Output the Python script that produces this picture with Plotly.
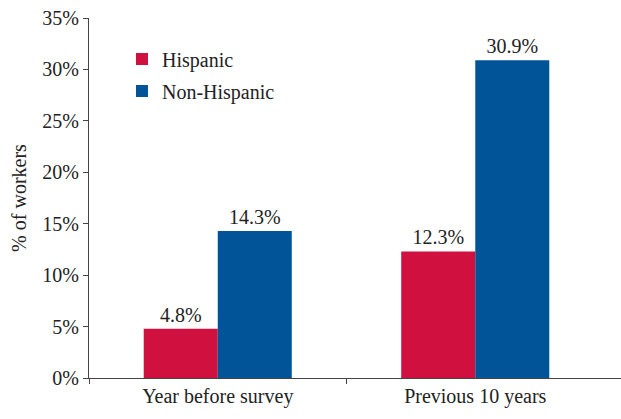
import plotly.graph_objects as go

categories = ["Year before survey", "Previous 10 years"]
hispanic = [4.8, 12.3]
non_hispanic = [14.3, 30.9]
y_ticks = [0, 5, 10, 15, 20, 25, 30, 35]
y_tick_labels = ["0%", "5%", "10%", "15%", "20%", "25%", "30%", "35%"]

FONT = "Liberation Serif, serif"
RED = "#D0103F"
BLUE = "#005497"
TXT = "#222222"
SIZE = 20

x = list(range(len(categories)))

fig = go.Figure()
fig.add_trace(go.Bar(
    x=x, y=hispanic, name="Hispanic", legendgroup="h",
    marker=dict(color=RED, line=dict(width=0)),
    text=[f"{v:.1f}%" for v in hispanic], textposition="outside",
    textfont=dict(family=FONT, size=SIZE, color=TXT), cliponaxis=False,
))
fig.add_trace(go.Bar(
    x=x, y=non_hispanic, name="Non-Hispanic", legendgroup="n",
    marker=dict(color=BLUE, line=dict(width=0)),
    text=[f"{v:.1f}%" for v in non_hispanic], textposition="outside",
    textfont=dict(family=FONT, size=SIZE, color=TXT), cliponaxis=False,
))

fig.update_layout(
    width=621, height=419,
    margin=dict(l=89, r=0, t=18, b=41),
    paper_bgcolor="white", plot_bgcolor="white",
    barmode="group", bargap=0.425, bargroupgap=0,
    font=dict(family=FONT, size=SIZE, color=TXT),
    showlegend=True,
    legend=dict(x=0.062, y=0.94, xanchor="left", yanchor="top",
                bgcolor="rgba(0,0,0,0)", font=dict(family=FONT, size=SIZE, color=TXT),
                itemwidth=30, tracegroupgap=3),
    xaxis=dict(
        range=[-0.5, 1.566], tickvals=x, ticktext=categories, ticks="",
        showline=True, linecolor="#444", linewidth=1, showgrid=False, zeroline=False,
        tickfont=dict(family=FONT, size=SIZE, color=TXT),
        minor=dict(tickvals=[-0.5, 0.5], ticks="outside", ticklen=5, tickcolor="#444", showgrid=False),
    ),
    yaxis=dict(
        range=[0, 35], tickvals=y_ticks, ticktext=y_tick_labels, ticks="outside",
        ticklen=5, tickcolor="#444", showline=True, linecolor="#444", linewidth=1,
        showgrid=False, zeroline=False,
        tickfont=dict(family=FONT, size=SIZE, color=TXT),
        title=dict(text="% of workers", font=dict(family=FONT, size=SIZE, color=TXT), standoff=10),
    ),
)

fig.write_html("out.html")
